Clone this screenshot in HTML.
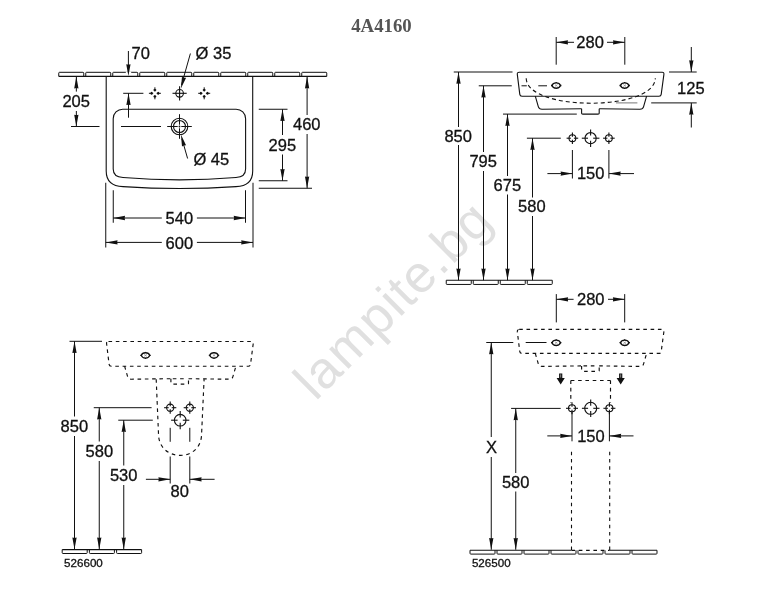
<!DOCTYPE html>
<html><head><meta charset="utf-8"><style>
html,body{margin:0;padding:0;background:#fff;}
svg{display:block;will-change:transform;}
</style></head><body>
<svg width="779" height="615" viewBox="0 0 779 615">
<rect width="779" height="615" fill="#fff"/>
<text x="0" y="0" font-family="Liberation Sans" font-size="52" letter-spacing="1.4" fill="#e0e0e0" transform="translate(315.4,401.8) rotate(-44.9)">lampite.bg</text>
<text x="351.2" y="31.6" font-family="Liberation Serif" font-size="18.8" fill="#555" text-anchor="start" font-weight="bold">4A4160</text>
<path d="M58.75,76.4 V73.1 Q58.75,72.3 59.55,72.3 H82.95 Q83.75,72.3 83.75,73.1 V76.4" fill="none" stroke="#111" stroke-width="1"/>
<path d="M85.75,76.4 V73.1 Q85.75,72.3 86.55,72.3 H109.95 Q110.75,72.3 110.75,73.1 V76.4" fill="none" stroke="#111" stroke-width="1"/>
<path d="M112.75,76.4 V73.1 Q112.75,72.3 113.55,72.3 H136.95 Q137.75,72.3 137.75,73.1 V76.4" fill="none" stroke="#111" stroke-width="1"/>
<path d="M139.75,76.4 V73.1 Q139.75,72.3 140.55,72.3 H163.95 Q164.75,72.3 164.75,73.1 V76.4" fill="none" stroke="#111" stroke-width="1"/>
<path d="M166.75,76.4 V73.1 Q166.75,72.3 167.55,72.3 H190.95 Q191.75,72.3 191.75,73.1 V76.4" fill="none" stroke="#111" stroke-width="1"/>
<path d="M193.75,76.4 V73.1 Q193.75,72.3 194.55,72.3 H217.95 Q218.75,72.3 218.75,73.1 V76.4" fill="none" stroke="#111" stroke-width="1"/>
<path d="M220.75,76.4 V73.1 Q220.75,72.3 221.55,72.3 H244.95 Q245.75,72.3 245.75,73.1 V76.4" fill="none" stroke="#111" stroke-width="1"/>
<path d="M247.75,76.4 V73.1 Q247.75,72.3 248.55,72.3 H271.95 Q272.75,72.3 272.75,73.1 V76.4" fill="none" stroke="#111" stroke-width="1"/>
<path d="M274.75,76.4 V73.1 Q274.75,72.3 275.55,72.3 H298.95 Q299.75,72.3 299.75,73.1 V76.4" fill="none" stroke="#111" stroke-width="1"/>
<path d="M301.75,76.4 V73.1 Q301.75,72.3 302.55,72.3 H325.95 Q326.75,72.3 326.75,73.1 V76.4" fill="none" stroke="#111" stroke-width="1"/>
<line x1="58.75" y1="76.4" x2="326.75" y2="76.4" stroke="#111" stroke-width="1.1"/>
<path d="M106.2,76.4 V171 C106.2,181.5 112,186.2 123,186.6 Q179.5,190.5 236,186.6 C247,186.2 252.7,181.5 252.7,171 V76.4" stroke="#111" stroke-width="1.1" fill="none"/>
<path d="M122.7,109.2 H236.1 A9.5,9.5 0 0 1 245.6,118.7 V169 C245.6,174.5 242.5,177.2 236,177.5 Q179.4,182.2 123,177.5 C116.5,177.2 113.2,174.5 113.2,169 V118.7 A9.5,9.5 0 0 1 122.7,109.2 Z" stroke="#111" stroke-width="1.1" fill="none"/>
<line x1="125.8" y1="72.3" x2="131.2" y2="72.3" stroke="#fff" stroke-width="1.6"/>
<line x1="128.4" y1="51" x2="128.4" y2="72.3" stroke="#111" stroke-width="1"/>
<path d="M128.4,76 L126.25,64.2 Q128.4,65 130.55,64.2 Z" fill="#111"/>
<text x="131.6" y="59.2" font-family="Liberation Sans" font-size="16.5" fill="#111" stroke="#111" stroke-width="0.3" text-anchor="start" font-weight="normal">70</text>
<circle cx="179.6" cy="93.3" r="3.8" fill="none" stroke="#111" stroke-width="1.1"/>
<line x1="172.5" y1="93.3" x2="186.7" y2="93.3" stroke="#111" stroke-width="1.1"/>
<line x1="179.6" y1="86.2" x2="179.6" y2="100.4" stroke="#111" stroke-width="1.1"/>
<ellipse cx="158.2" cy="93.3" rx="1.1" ry="1.5" fill="#111"/>
<ellipse cx="151.6" cy="93.3" rx="1.1" ry="1.5" fill="#111"/>
<ellipse cx="154.9" cy="96.6" rx="1.5" ry="1.1" fill="#111"/>
<ellipse cx="154.9" cy="90" rx="1.5" ry="1.1" fill="#111"/>
<line x1="148.9" y1="93.3" x2="153.2" y2="93.3" stroke="#111" stroke-width="1"/>
<line x1="156.6" y1="93.3" x2="160.9" y2="93.3" stroke="#111" stroke-width="1"/>
<line x1="154.9" y1="87.3" x2="154.9" y2="91.6" stroke="#111" stroke-width="1"/>
<line x1="154.9" y1="95" x2="154.9" y2="99.3" stroke="#111" stroke-width="1"/>
<ellipse cx="207.5" cy="93.3" rx="1.1" ry="1.5" fill="#111"/>
<ellipse cx="200.9" cy="93.3" rx="1.1" ry="1.5" fill="#111"/>
<ellipse cx="204.2" cy="96.6" rx="1.5" ry="1.1" fill="#111"/>
<ellipse cx="204.2" cy="90" rx="1.5" ry="1.1" fill="#111"/>
<line x1="198.2" y1="93.3" x2="202.5" y2="93.3" stroke="#111" stroke-width="1"/>
<line x1="205.9" y1="93.3" x2="210.2" y2="93.3" stroke="#111" stroke-width="1"/>
<line x1="204.2" y1="87.3" x2="204.2" y2="91.6" stroke="#111" stroke-width="1"/>
<line x1="204.2" y1="95" x2="204.2" y2="99.3" stroke="#111" stroke-width="1"/>
<line x1="123.2" y1="93.3" x2="143.4" y2="93.3" stroke="#111" stroke-width="1"/>
<line x1="128.5" y1="93.3" x2="128.5" y2="117.7" stroke="#111" stroke-width="1"/>
<path d="M128.5,93.3 L130.65,105.1 Q128.5,104.3 126.35,105.1 Z" fill="#111"/>
<line x1="190.4" y1="53.5" x2="181.5" y2="85" stroke="#111" stroke-width="1"/>
<path d="M180.9,88.6 L181.97,76.65 Q183.83,78 186.11,77.8 Z" fill="#111"/>
<text x="195.6" y="59" font-family="Liberation Sans" font-size="16.5" fill="#111" stroke="#111" stroke-width="0.3" text-anchor="start" font-weight="normal">Ø 35</text>
<circle cx="179.5" cy="126.5" r="8.3" fill="none" stroke="#111" stroke-width="1.1"/>
<circle cx="179.5" cy="126.5" r="6" fill="none" stroke="#111" stroke-width="1.1"/>
<line x1="167.2" y1="126.5" x2="177.7" y2="126.5" stroke="#111" stroke-width="1"/>
<line x1="181.3" y1="126.5" x2="191.8" y2="126.5" stroke="#111" stroke-width="1"/>
<line x1="179.5" y1="114.2" x2="179.5" y2="124.7" stroke="#111" stroke-width="1"/>
<line x1="179.5" y1="128.3" x2="179.5" y2="138.8" stroke="#111" stroke-width="1"/>
<circle cx="179.5" cy="126.5" r="0.9" fill="#111"/>
<line x1="71" y1="126.5" x2="99.5" y2="126.5" stroke="#111" stroke-width="1"/>
<line x1="121" y1="126.5" x2="161" y2="126.5" stroke="#111" stroke-width="1"/>
<line x1="76.35" y1="76.6" x2="76.35" y2="91.6" stroke="#111" stroke-width="1"/>
<line x1="76.35" y1="111" x2="76.35" y2="126.5" stroke="#111" stroke-width="1"/>
<path d="M76.35,76.6 L78.5,88.4 Q76.35,87.6 74.2,88.4 Z" fill="#111"/>
<path d="M76.35,126.5 L74.2,114.7 Q76.35,115.5 78.5,114.7 Z" fill="#111"/>
<text x="62.4" y="107" font-family="Liberation Sans" font-size="16.5" fill="#111" stroke="#111" stroke-width="0.3" text-anchor="start" font-weight="normal">205</text>
<line x1="187.6" y1="158.5" x2="182" y2="139" stroke="#111" stroke-width="1"/>
<path d="M180.9,134.6 L186.16,145.38 Q183.87,145.19 182.02,146.54 Z" fill="#111"/>
<text x="193.4" y="165.2" font-family="Liberation Sans" font-size="16.5" fill="#111" stroke="#111" stroke-width="0.3" text-anchor="start" font-weight="normal">Ø 45</text>
<line x1="258.75" y1="109.25" x2="287.5" y2="109.25" stroke="#111" stroke-width="1"/>
<line x1="258.75" y1="180.75" x2="287.5" y2="180.75" stroke="#111" stroke-width="1"/>
<line x1="282.5" y1="109.25" x2="282.5" y2="135" stroke="#111" stroke-width="1"/>
<line x1="282.5" y1="154.5" x2="282.5" y2="180.75" stroke="#111" stroke-width="1"/>
<path d="M282.5,109.25 L284.65,121.05 Q282.5,120.25 280.35,121.05 Z" fill="#111"/>
<path d="M282.5,180.75 L280.35,168.95 Q282.5,169.75 284.65,168.95 Z" fill="#111"/>
<text x="268.6" y="150.7" font-family="Liberation Sans" font-size="16.5" fill="#111" stroke="#111" stroke-width="0.3" text-anchor="start" font-weight="normal">295</text>
<line x1="258.75" y1="188.25" x2="312" y2="188.25" stroke="#111" stroke-width="1"/>
<line x1="307.1" y1="76.6" x2="307.1" y2="115" stroke="#111" stroke-width="1"/>
<line x1="307.1" y1="134" x2="307.1" y2="188.25" stroke="#111" stroke-width="1"/>
<path d="M307.1,76.6 L309.25,88.4 Q307.1,87.6 304.95,88.4 Z" fill="#111"/>
<path d="M307.1,188.25 L304.95,176.45 Q307.1,177.25 309.25,176.45 Z" fill="#111"/>
<text x="293" y="130.1" font-family="Liberation Sans" font-size="16.5" fill="#111" stroke="#111" stroke-width="0.3" text-anchor="start" font-weight="normal">460</text>
<line x1="113.25" y1="190.25" x2="113.25" y2="222.75" stroke="#111" stroke-width="1"/>
<line x1="245.5" y1="190.25" x2="245.5" y2="222.75" stroke="#111" stroke-width="1"/>
<line x1="105.75" y1="182.75" x2="105.75" y2="247.5" stroke="#111" stroke-width="1"/>
<line x1="253" y1="182.75" x2="253" y2="247.5" stroke="#111" stroke-width="1"/>
<line x1="113.25" y1="218" x2="161.8" y2="218" stroke="#111" stroke-width="1"/>
<line x1="196.9" y1="218" x2="245.5" y2="218" stroke="#111" stroke-width="1"/>
<path d="M113.25,218 L125.05,215.85 Q124.25,218 125.05,220.15 Z" fill="#111"/>
<path d="M245.5,218 L233.7,220.15 Q234.5,218 233.7,215.85 Z" fill="#111"/>
<line x1="105.75" y1="242.4" x2="161.8" y2="242.4" stroke="#111" stroke-width="1"/>
<line x1="196.9" y1="242.4" x2="253" y2="242.4" stroke="#111" stroke-width="1"/>
<path d="M105.75,242.4 L117.55,240.25 Q116.75,242.4 117.55,244.55 Z" fill="#111"/>
<path d="M253,242.4 L241.2,244.55 Q242,242.4 241.2,240.25 Z" fill="#111"/>
<text x="165.6" y="224" font-family="Liberation Sans" font-size="16.5" fill="#111" stroke="#111" stroke-width="0.3" text-anchor="start" font-weight="normal">540</text>
<text x="165.6" y="248.7" font-family="Liberation Sans" font-size="16.5" fill="#111" stroke="#111" stroke-width="0.3" text-anchor="start" font-weight="normal">600</text>
<path d="M519.2,72.2 L662.2,72.2 Q664.2,72.2 663.9,74.4 L661.2,94.4 Q661,96.2 659,96.2 L522,96.2 Q520,96.2 519.8,94.4 L517.3,74.4 Q517,72.2 519.2,72.2 Z" stroke="#111" stroke-width="1.1" fill="none"/>
<path d="M535.3,96.2 L538.3,106.6 Q539,109.2 542,109.2 L581.6,108.7 M599.2,108.7 L640,109.2 Q643,109.2 643.6,106.6 L646.6,96.2" stroke="#111" stroke-width="1.1" fill="none"/>
<path d="M581.6,108.7 V113.2 Q581.6,114.1 582.8,114.1 H598 Q599.2,114.1 599.2,113.2 V108.7" stroke="#111" stroke-width="1.1" fill="none"/>
<path d="M552,85.5 C552.5,83.9 553.9,82.85 556.2,82.85 C558.5,82.85 559.9,83.9 560.4,85.5 C559.9,87.1 558.5,88.15 556.2,88.15 C553.9,88.15 552.5,87.1 552,85.5 Z" stroke="#111" stroke-width="1.35" fill="none"/>
<line x1="551" y1="85.5" x2="552.4" y2="85.5" stroke="#111" stroke-width="1.3"/>
<line x1="560" y1="85.5" x2="561.4" y2="85.5" stroke="#111" stroke-width="1.3"/>
<line x1="556.2" y1="82" x2="556.2" y2="83.1" stroke="#111" stroke-width="1.2"/>
<line x1="556.2" y1="87.9" x2="556.2" y2="89" stroke="#111" stroke-width="1.2"/>
<line x1="554.9" y1="84.5" x2="557.5" y2="86.5" stroke="#777" stroke-width="0.6"/>
<line x1="554.9" y1="86.5" x2="557.5" y2="84.5" stroke="#777" stroke-width="0.6"/>
<path d="M620.5,85.5 C621,83.9 622.4,82.85 624.7,82.85 C627,82.85 628.4,83.9 628.9,85.5 C628.4,87.1 627,88.15 624.7,88.15 C622.4,88.15 621,87.1 620.5,85.5 Z" stroke="#111" stroke-width="1.35" fill="none"/>
<line x1="619.5" y1="85.5" x2="620.9" y2="85.5" stroke="#111" stroke-width="1.3"/>
<line x1="628.5" y1="85.5" x2="629.9" y2="85.5" stroke="#111" stroke-width="1.3"/>
<line x1="624.7" y1="82" x2="624.7" y2="83.1" stroke="#111" stroke-width="1.2"/>
<line x1="624.7" y1="87.9" x2="624.7" y2="89" stroke="#111" stroke-width="1.2"/>
<line x1="623.4" y1="84.5" x2="626" y2="86.5" stroke="#777" stroke-width="0.6"/>
<line x1="623.4" y1="86.5" x2="626" y2="84.5" stroke="#777" stroke-width="0.6"/>
<path d="M526.2,78.3 C527,111.5 654.5,111.5 655.3,78.3" stroke="#111" stroke-width="1.1" fill="none" stroke-dasharray="4 3"/>
<line x1="521.5" y1="85.8" x2="547" y2="85.8" stroke="#111" stroke-width="1" stroke-dasharray="5.3 11.5 8.7 100"/>
<line x1="556.2" y1="37" x2="556.2" y2="64.7" stroke="#111" stroke-width="1"/>
<line x1="624.8" y1="37" x2="624.8" y2="64.7" stroke="#111" stroke-width="1"/>
<line x1="556.2" y1="42.3" x2="574" y2="42.3" stroke="#111" stroke-width="1"/>
<path d="M556.2,42.3 L568,40.15 Q567.2,42.3 568,44.45 Z" fill="#111"/>
<line x1="607" y1="42.3" x2="624.8" y2="42.3" stroke="#111" stroke-width="1"/>
<path d="M624.8,42.3 L613,44.45 Q613.8,42.3 613,40.15 Z" fill="#111"/>
<text x="576.3" y="48.1" font-family="Liberation Sans" font-size="16.5" fill="#111" stroke="#111" stroke-width="0.3" text-anchor="start" font-weight="normal">280</text>
<line x1="669" y1="72" x2="696.7" y2="72" stroke="#111" stroke-width="1"/>
<line x1="651.2" y1="102.9" x2="696.7" y2="102.9" stroke="#111" stroke-width="1"/>
<line x1="616" y1="102.9" x2="637.4" y2="102.9" stroke="#777" stroke-width="1"/>
<line x1="691.3" y1="47" x2="691.3" y2="72" stroke="#111" stroke-width="1"/>
<path d="M691.3,72 L689.15,60.2 Q691.3,61 693.45,60.2 Z" fill="#111"/>
<line x1="691.3" y1="102.9" x2="691.3" y2="127.5" stroke="#111" stroke-width="1"/>
<path d="M691.3,102.9 L693.45,114.7 Q691.3,113.9 689.15,114.7 Z" fill="#111"/>
<text x="677.1" y="93.7" font-family="Liberation Sans" font-size="16.5" fill="#111" stroke="#111" stroke-width="0.3" text-anchor="start" font-weight="normal">125</text>
<line x1="453.75" y1="72" x2="512.5" y2="72" stroke="#111" stroke-width="1"/>
<line x1="458.5" y1="72" x2="458.5" y2="127" stroke="#111" stroke-width="1"/>
<line x1="458.5" y1="145" x2="458.5" y2="280.25" stroke="#111" stroke-width="1"/>
<path d="M458.5,72 L460.65,83.8 Q458.5,83 456.35,83.8 Z" fill="#111"/>
<path d="M458.5,280.25 L456.35,268.45 Q458.5,269.25 460.65,268.45 Z" fill="#111"/>
<text x="444.4" y="141.7" font-family="Liberation Sans" font-size="16.5" fill="#111" stroke="#111" stroke-width="0.3" text-anchor="start" font-weight="normal">850</text>
<line x1="478.75" y1="85.8" x2="511.75" y2="85.8" stroke="#111" stroke-width="1"/>
<line x1="483.5" y1="85.8" x2="483.5" y2="152" stroke="#111" stroke-width="1"/>
<line x1="483.5" y1="171" x2="483.5" y2="280.25" stroke="#111" stroke-width="1"/>
<path d="M483.5,85.8 L485.65,97.6 Q483.5,96.8 481.35,97.6 Z" fill="#111"/>
<path d="M483.5,280.25 L481.35,268.45 Q483.5,269.25 485.65,268.45 Z" fill="#111"/>
<text x="469.4" y="167" font-family="Liberation Sans" font-size="16.5" fill="#111" stroke="#111" stroke-width="0.3" text-anchor="start" font-weight="normal">795</text>
<line x1="503" y1="114.1" x2="576.8" y2="114.1" stroke="#111" stroke-width="1"/>
<line x1="507.5" y1="114.1" x2="507.5" y2="176" stroke="#111" stroke-width="1"/>
<line x1="507.5" y1="194.5" x2="507.5" y2="280.25" stroke="#111" stroke-width="1"/>
<path d="M507.5,114.1 L509.65,125.9 Q507.5,125.1 505.35,125.9 Z" fill="#111"/>
<path d="M507.5,280.25 L505.35,268.45 Q507.5,269.25 509.65,268.45 Z" fill="#111"/>
<text x="493.6" y="191" font-family="Liberation Sans" font-size="16.5" fill="#111" stroke="#111" stroke-width="0.3" text-anchor="start" font-weight="normal">675</text>
<line x1="526.9" y1="138.2" x2="560.8" y2="138.2" stroke="#111" stroke-width="1"/>
<line x1="532.5" y1="138.2" x2="532.5" y2="197.5" stroke="#111" stroke-width="1"/>
<line x1="532.5" y1="216" x2="532.5" y2="280.25" stroke="#111" stroke-width="1"/>
<path d="M532.5,138.2 L534.65,150 Q532.5,149.2 530.35,150 Z" fill="#111"/>
<path d="M532.5,280.25 L530.35,268.45 Q532.5,269.25 534.65,268.45 Z" fill="#111"/>
<text x="518.1" y="212.2" font-family="Liberation Sans" font-size="16.5" fill="#111" stroke="#111" stroke-width="0.3" text-anchor="start" font-weight="normal">580</text>
<circle cx="572.4" cy="138.2" r="3.4" fill="none" stroke="#111" stroke-width="1.1"/>
<line x1="566.6" y1="138.2" x2="570.9" y2="138.2" stroke="#111" stroke-width="1.1"/>
<line x1="573.9" y1="138.2" x2="578.2" y2="138.2" stroke="#111" stroke-width="1.1"/>
<line x1="572.4" y1="132.4" x2="572.4" y2="136.7" stroke="#111" stroke-width="1.1"/>
<line x1="572.4" y1="139.7" x2="572.4" y2="144" stroke="#111" stroke-width="1.1"/>
<circle cx="590.6" cy="138.2" r="5.6" fill="none" stroke="#111" stroke-width="1.1"/>
<line x1="581.8" y1="138.2" x2="588" y2="138.2" stroke="#111" stroke-width="1.1"/>
<line x1="593.2" y1="138.2" x2="599.4" y2="138.2" stroke="#111" stroke-width="1.1"/>
<line x1="590.6" y1="129.4" x2="590.6" y2="135.6" stroke="#111" stroke-width="1.1"/>
<line x1="590.6" y1="140.8" x2="590.6" y2="147" stroke="#111" stroke-width="1.1"/>
<circle cx="608.9" cy="138.2" r="3.4" fill="none" stroke="#111" stroke-width="1.1"/>
<line x1="603.1" y1="138.2" x2="607.4" y2="138.2" stroke="#111" stroke-width="1.1"/>
<line x1="610.4" y1="138.2" x2="614.7" y2="138.2" stroke="#111" stroke-width="1.1"/>
<line x1="608.9" y1="132.4" x2="608.9" y2="136.7" stroke="#111" stroke-width="1.1"/>
<line x1="608.9" y1="139.7" x2="608.9" y2="144" stroke="#111" stroke-width="1.1"/>
<line x1="572.4" y1="150" x2="572.4" y2="178.5" stroke="#111" stroke-width="1"/>
<line x1="608.9" y1="150" x2="608.9" y2="178.5" stroke="#111" stroke-width="1"/>
<line x1="547.4" y1="173.6" x2="572.4" y2="173.6" stroke="#111" stroke-width="1"/>
<path d="M572.4,173.6 L560.6,175.75 Q561.4,173.6 560.6,171.45 Z" fill="#111"/>
<line x1="608.9" y1="173.6" x2="634" y2="173.6" stroke="#111" stroke-width="1"/>
<path d="M608.9,173.6 L620.7,171.45 Q619.9,173.6 620.7,175.75 Z" fill="#111"/>
<text x="576.9" y="179.3" font-family="Liberation Sans" font-size="16.5" fill="#111" stroke="#111" stroke-width="0.3" text-anchor="start" font-weight="normal">150</text>
<path d="M446.25,280.25 V283.65 Q446.25,284.45 447.05,284.45 H470.45 Q471.25,284.45 471.25,283.65 V280.25" fill="none" stroke="#111" stroke-width="1"/>
<path d="M473.25,280.25 V283.65 Q473.25,284.45 474.05,284.45 H497.45 Q498.25,284.45 498.25,283.65 V280.25" fill="none" stroke="#111" stroke-width="1"/>
<path d="M500.25,280.25 V283.65 Q500.25,284.45 501.05,284.45 H524.45 Q525.25,284.45 525.25,283.65 V280.25" fill="none" stroke="#111" stroke-width="1"/>
<path d="M527.25,280.25 V283.65 Q527.25,284.45 528.05,284.45 H551.45 Q552.25,284.45 552.25,283.65 V280.25" fill="none" stroke="#111" stroke-width="1"/>
<line x1="446.25" y1="280.25" x2="552.25" y2="280.25" stroke="#111" stroke-width="1.1"/>
<path d="M108.5,341.5 L251.5,341.5 Q253.5,341.5 253.2,343.76 L250.5,364.35 Q250.3,366.2 248.3,366.2 L111.3,366.2 Q109.3,366.2 109.1,364.35 L106.6,343.76 Q106.3,341.5 108.5,341.5 Z" stroke="#111" stroke-width="1.15" fill="none" stroke-dasharray="3.6 3.7"/>
<path d="M124.6,366.2 L127.6,376.6 Q128.3,379.2 131.3,379.2 L170.9,378.7 M188.5,378.7 L229.3,379.2 Q232.3,379.2 232.9,376.6 L235.9,366.2" stroke="#111" stroke-width="1.15" fill="none" stroke-dasharray="3.6 3.7"/>
<path d="M170.9,378.7 V383.2 Q170.9,384.1 172.1,384.1 H187.3 Q188.5,384.1 188.5,383.2 V378.7" stroke="#111" stroke-width="1.15" fill="none" stroke-dasharray="3.6 3.7"/>
<line x1="172.8" y1="378.7" x2="187.3" y2="378.7" stroke="#111" stroke-width="1.15" stroke-dasharray="3.6 3.7"/>
<path d="M141.3,355.4 C141.8,353.8 143.2,352.75 145.5,352.75 C147.8,352.75 149.2,353.8 149.7,355.4 C149.2,357 147.8,358.05 145.5,358.05 C143.2,358.05 141.8,357 141.3,355.4 Z" stroke="#111" stroke-width="1.35" fill="none"/>
<line x1="140.3" y1="355.4" x2="141.7" y2="355.4" stroke="#111" stroke-width="1.3"/>
<line x1="149.3" y1="355.4" x2="150.7" y2="355.4" stroke="#111" stroke-width="1.3"/>
<line x1="145.5" y1="351.9" x2="145.5" y2="353" stroke="#111" stroke-width="1.2"/>
<line x1="145.5" y1="357.8" x2="145.5" y2="358.9" stroke="#111" stroke-width="1.2"/>
<line x1="144.2" y1="354.4" x2="146.8" y2="356.4" stroke="#777" stroke-width="0.6"/>
<line x1="144.2" y1="356.4" x2="146.8" y2="354.4" stroke="#777" stroke-width="0.6"/>
<path d="M209.8,355.4 C210.3,353.8 211.7,352.75 214,352.75 C216.3,352.75 217.7,353.8 218.2,355.4 C217.7,357 216.3,358.05 214,358.05 C211.7,358.05 210.3,357 209.8,355.4 Z" stroke="#111" stroke-width="1.35" fill="none"/>
<line x1="208.8" y1="355.4" x2="210.2" y2="355.4" stroke="#111" stroke-width="1.3"/>
<line x1="217.8" y1="355.4" x2="219.2" y2="355.4" stroke="#111" stroke-width="1.3"/>
<line x1="214" y1="351.9" x2="214" y2="353" stroke="#111" stroke-width="1.2"/>
<line x1="214" y1="357.8" x2="214" y2="358.9" stroke="#111" stroke-width="1.2"/>
<line x1="212.7" y1="354.4" x2="215.3" y2="356.4" stroke="#777" stroke-width="0.6"/>
<line x1="212.7" y1="356.4" x2="215.3" y2="354.4" stroke="#777" stroke-width="0.6"/>
<path d="M156.2,379.2 L158.6,436 C159.5,448 169,455.4 180.2,455.4 C191.4,455.4 200.6,448 201.5,436 L204.1,379.2" stroke="#111" stroke-width="1.15" fill="none" stroke-dasharray="3.6 3.7"/>
<line x1="69.5" y1="341.3" x2="102" y2="341.3" stroke="#111" stroke-width="1"/>
<line x1="74.5" y1="341.3" x2="74.5" y2="416.5" stroke="#111" stroke-width="1"/>
<line x1="74.5" y1="436" x2="74.5" y2="549.25" stroke="#111" stroke-width="1"/>
<path d="M74.5,341.3 L76.65,353.1 Q74.5,352.3 72.35,353.1 Z" fill="#111"/>
<path d="M74.5,549.25 L72.35,537.45 Q74.5,538.25 76.65,537.45 Z" fill="#111"/>
<text x="60.6" y="432.2" font-family="Liberation Sans" font-size="16.5" fill="#111" stroke="#111" stroke-width="0.3" text-anchor="start" font-weight="normal">850</text>
<line x1="93.75" y1="407.7" x2="151.6" y2="407.7" stroke="#111" stroke-width="1"/>
<line x1="99.25" y1="407.7" x2="99.25" y2="441.5" stroke="#111" stroke-width="1"/>
<line x1="99.25" y1="461" x2="99.25" y2="549.25" stroke="#111" stroke-width="1"/>
<path d="M99.25,407.7 L101.4,419.5 Q99.25,418.7 97.1,419.5 Z" fill="#111"/>
<path d="M99.25,549.25 L97.1,537.45 Q99.25,538.25 101.4,537.45 Z" fill="#111"/>
<text x="85.6" y="457.2" font-family="Liberation Sans" font-size="16.5" fill="#111" stroke="#111" stroke-width="0.3" text-anchor="start" font-weight="normal">580</text>
<line x1="118.25" y1="420.2" x2="152.8" y2="420.2" stroke="#111" stroke-width="1"/>
<line x1="123.75" y1="420.2" x2="123.75" y2="465.5" stroke="#111" stroke-width="1"/>
<line x1="123.75" y1="485" x2="123.75" y2="549.25" stroke="#111" stroke-width="1"/>
<path d="M123.75,420.2 L125.9,432 Q123.75,431.2 121.6,432 Z" fill="#111"/>
<path d="M123.75,549.25 L121.6,537.45 Q123.75,538.25 125.9,537.45 Z" fill="#111"/>
<text x="109.9" y="481" font-family="Liberation Sans" font-size="16.5" fill="#111" stroke="#111" stroke-width="0.3" text-anchor="start" font-weight="normal">530</text>
<circle cx="170.2" cy="407.7" r="3.6" fill="none" stroke="#111" stroke-width="1.1"/>
<line x1="164.1" y1="407.7" x2="168.7" y2="407.7" stroke="#111" stroke-width="1.1"/>
<line x1="171.7" y1="407.7" x2="176.3" y2="407.7" stroke="#111" stroke-width="1.1"/>
<line x1="170.2" y1="401.6" x2="170.2" y2="406.2" stroke="#111" stroke-width="1.1"/>
<line x1="170.2" y1="409.2" x2="170.2" y2="413.8" stroke="#111" stroke-width="1.1"/>
<circle cx="189.8" cy="407.7" r="3.6" fill="none" stroke="#111" stroke-width="1.1"/>
<line x1="183.7" y1="407.7" x2="188.3" y2="407.7" stroke="#111" stroke-width="1.1"/>
<line x1="191.3" y1="407.7" x2="195.9" y2="407.7" stroke="#111" stroke-width="1.1"/>
<line x1="189.8" y1="401.6" x2="189.8" y2="406.2" stroke="#111" stroke-width="1.1"/>
<line x1="189.8" y1="409.2" x2="189.8" y2="413.8" stroke="#111" stroke-width="1.1"/>
<circle cx="180.2" cy="420.2" r="5.8" fill="none" stroke="#111" stroke-width="1.1"/>
<line x1="171.1" y1="420.2" x2="177.6" y2="420.2" stroke="#111" stroke-width="1.1"/>
<line x1="182.8" y1="420.2" x2="189.3" y2="420.2" stroke="#111" stroke-width="1.1"/>
<line x1="180.2" y1="411.1" x2="180.2" y2="417.6" stroke="#111" stroke-width="1.1"/>
<line x1="180.2" y1="422.8" x2="180.2" y2="429.3" stroke="#111" stroke-width="1.1"/>
<line x1="170.2" y1="427.8" x2="170.2" y2="441.8" stroke="#111" stroke-width="1"/>
<line x1="189.8" y1="427.8" x2="189.8" y2="441.8" stroke="#111" stroke-width="1"/>
<line x1="170.2" y1="456.5" x2="170.2" y2="483.5" stroke="#111" stroke-width="1"/>
<line x1="189.8" y1="456.5" x2="189.8" y2="483.5" stroke="#111" stroke-width="1"/>
<line x1="145.9" y1="479.3" x2="170.2" y2="479.3" stroke="#111" stroke-width="1"/>
<path d="M170.2,479.3 L158.4,481.45 Q159.2,479.3 158.4,477.15 Z" fill="#111"/>
<line x1="189.8" y1="479.3" x2="214.6" y2="479.3" stroke="#111" stroke-width="1"/>
<path d="M189.8,479.3 L201.6,477.15 Q200.8,479.3 201.6,481.45 Z" fill="#111"/>
<text x="170.6" y="496.7" font-family="Liberation Sans" font-size="16.5" fill="#111" stroke="#111" stroke-width="0.3" text-anchor="start" font-weight="normal">80</text>
<path d="M62.2,549.6 V552.7 Q62.2,553.5 63,553.5 H86.4 Q87.2,553.5 87.2,552.7 V549.6" fill="none" stroke="#111" stroke-width="1"/>
<path d="M89.4,549.6 V552.7 Q89.4,553.5 90.2,553.5 H113.6 Q114.4,553.5 114.4,552.7 V549.6" fill="none" stroke="#111" stroke-width="1"/>
<path d="M116.6,549.6 V552.7 Q116.6,553.5 117.4,553.5 H140.8 Q141.6,553.5 141.6,552.7 V549.6" fill="none" stroke="#111" stroke-width="1"/>
<line x1="62.2" y1="549.6" x2="141.6" y2="549.6" stroke="#111" stroke-width="1.1"/>
<text x="64.1" y="566.7" font-family="Liberation Sans" font-size="11.6" fill="#111" stroke="#111" stroke-width="0.3" text-anchor="start" font-weight="normal">526600</text>
<path d="M519.2,329.4 L662.2,329.4 Q664.2,329.4 663.9,331.6 L661.2,351.6 Q661,353.4 659,353.4 L522,353.4 Q520,353.4 519.8,351.6 L517.3,331.6 Q517,329.4 519.2,329.4 Z" stroke="#111" stroke-width="1.15" fill="none" stroke-dasharray="3.6 3.7"/>
<path d="M535.3,353.4 L538.3,363.8 Q539,366.4 542,366.4 L581.6,365.9 M599.2,365.9 L640,366.4 Q643,366.4 643.6,363.8 L646.6,353.4" stroke="#111" stroke-width="1.15" fill="none" stroke-dasharray="3.6 3.7"/>
<path d="M581.6,365.9 V370.4 Q581.6,371.3 582.8,371.3 H598 Q599.2,371.3 599.2,370.4 V365.9" stroke="#111" stroke-width="1.15" fill="none" stroke-dasharray="3.6 3.7"/>
<line x1="583.5" y1="365.9" x2="598" y2="365.9" stroke="#111" stroke-width="1.15" stroke-dasharray="3.6 3.7"/>
<path d="M552,342.7 C552.5,341.1 553.9,340.05 556.2,340.05 C558.5,340.05 559.9,341.1 560.4,342.7 C559.9,344.3 558.5,345.35 556.2,345.35 C553.9,345.35 552.5,344.3 552,342.7 Z" stroke="#111" stroke-width="1.35" fill="none"/>
<line x1="551" y1="342.7" x2="552.4" y2="342.7" stroke="#111" stroke-width="1.3"/>
<line x1="560" y1="342.7" x2="561.4" y2="342.7" stroke="#111" stroke-width="1.3"/>
<line x1="556.2" y1="339.2" x2="556.2" y2="340.3" stroke="#111" stroke-width="1.2"/>
<line x1="556.2" y1="345.1" x2="556.2" y2="346.2" stroke="#111" stroke-width="1.2"/>
<line x1="554.9" y1="341.7" x2="557.5" y2="343.7" stroke="#777" stroke-width="0.6"/>
<line x1="554.9" y1="343.7" x2="557.5" y2="341.7" stroke="#777" stroke-width="0.6"/>
<path d="M620.5,342.7 C621,341.1 622.4,340.05 624.7,340.05 C627,340.05 628.4,341.1 628.9,342.7 C628.4,344.3 627,345.35 624.7,345.35 C622.4,345.35 621,344.3 620.5,342.7 Z" stroke="#111" stroke-width="1.35" fill="none"/>
<line x1="619.5" y1="342.7" x2="620.9" y2="342.7" stroke="#111" stroke-width="1.3"/>
<line x1="628.5" y1="342.7" x2="629.9" y2="342.7" stroke="#111" stroke-width="1.3"/>
<line x1="624.7" y1="339.2" x2="624.7" y2="340.3" stroke="#111" stroke-width="1.2"/>
<line x1="624.7" y1="345.1" x2="624.7" y2="346.2" stroke="#111" stroke-width="1.2"/>
<line x1="623.4" y1="341.7" x2="626" y2="343.7" stroke="#777" stroke-width="0.6"/>
<line x1="623.4" y1="343.7" x2="626" y2="341.7" stroke="#777" stroke-width="0.6"/>
<line x1="556.3" y1="294.1" x2="556.3" y2="322.4" stroke="#111" stroke-width="1"/>
<line x1="624.7" y1="294.1" x2="624.7" y2="322.4" stroke="#111" stroke-width="1"/>
<line x1="556.3" y1="299.3" x2="573.6" y2="299.3" stroke="#111" stroke-width="1"/>
<path d="M556.3,299.3 L568.1,297.15 Q567.3,299.3 568.1,301.45 Z" fill="#111"/>
<line x1="608" y1="299.3" x2="624.7" y2="299.3" stroke="#111" stroke-width="1"/>
<path d="M624.7,299.3 L612.9,301.45 Q613.7,299.3 612.9,297.15 Z" fill="#111"/>
<text x="577" y="305.3" font-family="Liberation Sans" font-size="16.5" fill="#111" stroke="#111" stroke-width="0.3" text-anchor="start" font-weight="normal">280</text>
<line x1="486.25" y1="342.5" x2="513.3" y2="342.5" stroke="#111" stroke-width="1"/>
<line x1="525.7" y1="342.5" x2="546.5" y2="342.5" stroke="#111" stroke-width="1"/>
<line x1="491.25" y1="342.5" x2="491.25" y2="437" stroke="#111" stroke-width="1"/>
<line x1="491.25" y1="457" x2="491.25" y2="549.75" stroke="#111" stroke-width="1"/>
<path d="M491.25,342.5 L493.4,354.3 Q491.25,353.5 489.1,354.3 Z" fill="#111"/>
<path d="M491.25,549.75 L489.1,537.95 Q491.25,538.75 493.4,537.95 Z" fill="#111"/>
<text x="486.1" y="453" font-family="Liberation Sans" font-size="16.5" fill="#111" stroke="#111" stroke-width="0.3" text-anchor="start" font-weight="normal">X</text>
<path d="M559.1,373.5 h3.2 v4.5 h2.5 L560.7,384.6 L556.6,378 h2.5 Z" fill="#111"/>
<line x1="560.7" y1="374.3" x2="560.7" y2="377.6" stroke="#aaa" stroke-width="0.8"/>
<path d="M619.1,373.5 h3.2 v4.5 h2.5 L620.7,384.6 L616.6,378 h2.5 Z" fill="#111"/>
<line x1="620.7" y1="374.3" x2="620.7" y2="377.6" stroke="#aaa" stroke-width="0.8"/>
<path d="M570.8,380.5 H610.5 M570.8,380.5 V403 M610.5,380.5 V403" stroke="#111" stroke-width="1.15" fill="none" stroke-dasharray="3.6 3.7"/>
<path d="M571.5,451.7 V550.3 M609.7,451.7 V550.3" stroke="#111" stroke-width="1.1" fill="none" stroke-dasharray="3.5 3.8"/>
<circle cx="572" cy="408.3" r="3.5" fill="none" stroke="#111" stroke-width="1.1"/>
<line x1="566" y1="408.3" x2="570.5" y2="408.3" stroke="#111" stroke-width="1.1"/>
<line x1="573.5" y1="408.3" x2="578" y2="408.3" stroke="#111" stroke-width="1.1"/>
<line x1="572" y1="402.3" x2="572" y2="406.8" stroke="#111" stroke-width="1.1"/>
<line x1="572" y1="409.8" x2="572" y2="414.3" stroke="#111" stroke-width="1.1"/>
<circle cx="590.7" cy="408.3" r="6" fill="none" stroke="#111" stroke-width="1.1"/>
<line x1="581.9" y1="408.3" x2="588.1" y2="408.3" stroke="#111" stroke-width="1.1"/>
<line x1="593.3" y1="408.3" x2="599.5" y2="408.3" stroke="#111" stroke-width="1.1"/>
<line x1="590.7" y1="399.5" x2="590.7" y2="405.7" stroke="#111" stroke-width="1.1"/>
<line x1="590.7" y1="410.9" x2="590.7" y2="417.1" stroke="#111" stroke-width="1.1"/>
<circle cx="609.4" cy="408.3" r="3.5" fill="none" stroke="#111" stroke-width="1.1"/>
<line x1="603.4" y1="408.3" x2="607.9" y2="408.3" stroke="#111" stroke-width="1.1"/>
<line x1="610.9" y1="408.3" x2="615.4" y2="408.3" stroke="#111" stroke-width="1.1"/>
<line x1="609.4" y1="402.3" x2="609.4" y2="406.8" stroke="#111" stroke-width="1.1"/>
<line x1="609.4" y1="409.8" x2="609.4" y2="414.3" stroke="#111" stroke-width="1.1"/>
<line x1="511.1" y1="408.4" x2="560.7" y2="408.4" stroke="#111" stroke-width="1"/>
<line x1="515.75" y1="408.4" x2="515.75" y2="473" stroke="#111" stroke-width="1"/>
<line x1="515.75" y1="491.5" x2="515.75" y2="549.75" stroke="#111" stroke-width="1"/>
<path d="M515.75,408.4 L517.9,420.2 Q515.75,419.4 513.6,420.2 Z" fill="#111"/>
<path d="M515.75,549.75 L513.6,537.95 Q515.75,538.75 517.9,537.95 Z" fill="#111"/>
<text x="501.9" y="488" font-family="Liberation Sans" font-size="16.5" fill="#111" stroke="#111" stroke-width="0.3" text-anchor="start" font-weight="normal">580</text>
<line x1="572" y1="412" x2="572" y2="441.3" stroke="#111" stroke-width="1"/>
<line x1="609.4" y1="412" x2="609.4" y2="441.3" stroke="#111" stroke-width="1"/>
<line x1="547.3" y1="435.9" x2="572" y2="435.9" stroke="#111" stroke-width="1"/>
<path d="M572,435.9 L560.2,438.05 Q561,435.9 560.2,433.75 Z" fill="#111"/>
<line x1="609.4" y1="435.9" x2="633.5" y2="435.9" stroke="#111" stroke-width="1"/>
<path d="M609.4,435.9 L621.2,433.75 Q620.4,435.9 621.2,438.05 Z" fill="#111"/>
<text x="577.2" y="442" font-family="Liberation Sans" font-size="16.5" fill="#111" stroke="#111" stroke-width="0.3" text-anchor="start" font-weight="normal">150</text>
<path d="M470,550.3 V553.3 Q470,554.1 470.8,554.1 H494.2 Q495,554.1 495,553.3 V550.3" fill="none" stroke="#111" stroke-width="1"/>
<path d="M497,550.3 V553.3 Q497,554.1 497.8,554.1 H521.2 Q522,554.1 522,553.3 V550.3" fill="none" stroke="#111" stroke-width="1"/>
<path d="M524,550.3 V553.3 Q524,554.1 524.8,554.1 H548.2 Q549,554.1 549,553.3 V550.3" fill="none" stroke="#111" stroke-width="1"/>
<path d="M551,550.3 V553.3 Q551,554.1 551.8,554.1 H575.2 Q576,554.1 576,553.3 V550.3" fill="none" stroke="#111" stroke-width="1"/>
<path d="M578,550.3 V553.3 Q578,554.1 578.8,554.1 H602.2 Q603,554.1 603,553.3 V550.3" fill="none" stroke="#111" stroke-width="1"/>
<path d="M605,550.3 V553.3 Q605,554.1 605.8,554.1 H629.2 Q630,554.1 630,553.3 V550.3" fill="none" stroke="#111" stroke-width="1"/>
<path d="M632,550.3 V553.3 Q632,554.1 632.8,554.1 H656.2 Q657,554.1 657,553.3 V550.3" fill="none" stroke="#111" stroke-width="1"/>
<line x1="470" y1="550.3" x2="571.5" y2="550.3" stroke="#111" stroke-width="1.1"/>
<line x1="609.7" y1="550.3" x2="657" y2="550.3" stroke="#111" stroke-width="1.1"/>
<line x1="571.5" y1="550.3" x2="609.7" y2="550.3" stroke="#111" stroke-width="1.2" stroke-dasharray="3.6 3.7"/>
<text x="471.9" y="567.2" font-family="Liberation Sans" font-size="11.6" fill="#111" stroke="#111" stroke-width="0.3" text-anchor="start" font-weight="normal">526500</text>
</svg>
</body></html>
